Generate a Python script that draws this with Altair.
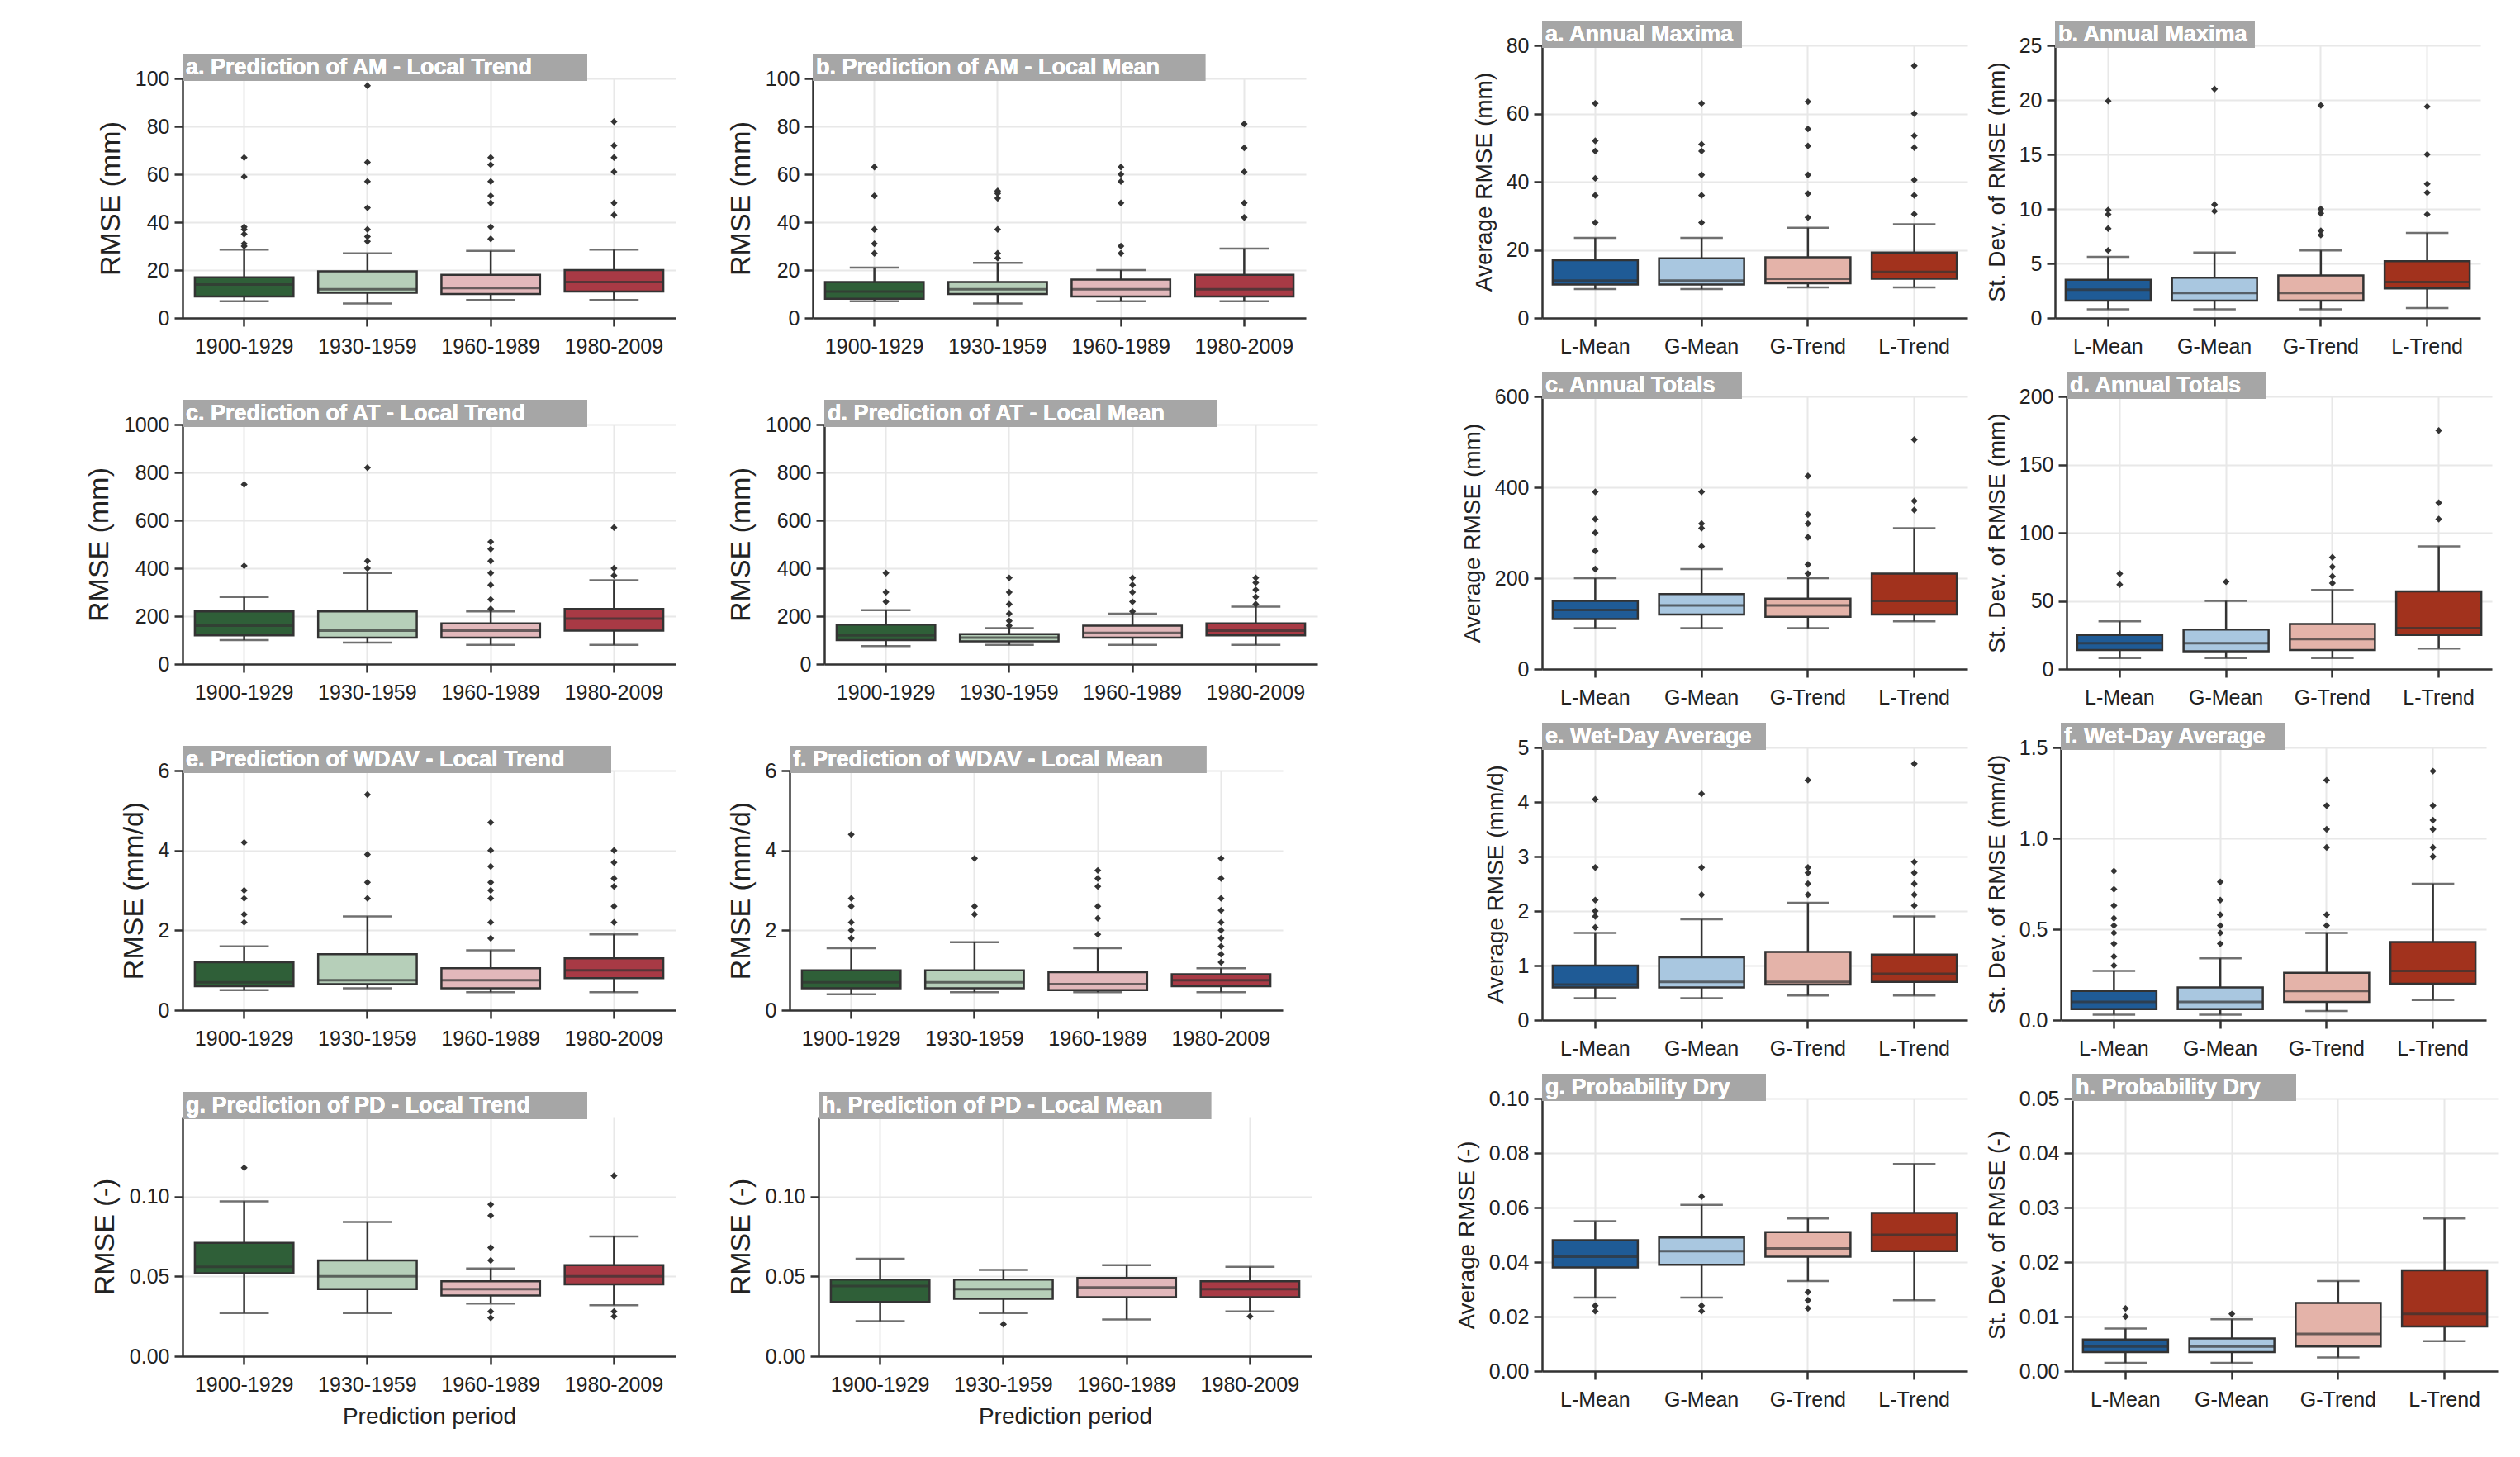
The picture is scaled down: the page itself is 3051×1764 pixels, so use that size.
import altair as alt
import pandas as pd

PERIODS = ["1900-1929", "1930-1959", "1960-1989", "1980-2009"]
MODELS = ["L-Mean", "G-Mean", "G-Trend", "L-Trend"]
LEFT_COLORS = ["#2f5f38", "#b6cfb9", "#e2b8bb", "#a83a45"]
RIGHT_COLORS = ["#1f5b96", "#a9c7e0", "#e4b3a9", "#a2321d"]

# each: lo, q1, med, q3, hi, outliers
AM_LT = dict(lo=[7, 6, 7.5, 7.5], q1=[9, 10.5, 10, 11], med=[14, 12, 12.5, 15], q3=[17, 19.5, 18, 20], hi=[28.5, 27, 28, 28.5],
             out=[[30, 31, 35, 37, 38, 59, 67], [32, 34, 37, 46, 57, 65, 97], [33, 38, 48, 51, 57, 64, 67], [43, 48, 61, 67, 72, 82]])
AM_LM = dict(lo=[7, 6, 7, 7], q1=[8, 10, 9, 9], med=[11, 12, 12, 12], q3=[15, 15, 16, 18], hi=[21, 23, 20, 29],
             out=[[27, 31, 37, 51, 63], [25, 27, 37, 50, 52, 53], [27, 30, 48, 57, 60, 63], [42, 48, 61, 71, 81]])
AT_LT = dict(lo=[100, 90, 80, 80], q1=[120, 110, 110, 140], med=[160, 140, 140, 190], q3=[220, 220, 170, 230], hi=[280, 380, 220, 350],
             out=[[410, 750], [400, 430, 820], [230, 270, 330, 380, 430, 480, 510], [370, 400, 570]])
AT_LM = dict(lo=[75, 80, 80, 80], q1=[100, 95, 110, 120], med=[120, 110, 130, 140], q3=[165, 125, 160, 170], hi=[225, 150, 210, 240],
             out=[[260, 300, 380], [160, 180, 210, 250, 300, 360], [220, 260, 300, 330, 360], [250, 280, 310, 340, 360]])
WD_LT = dict(lo=[0.5, 0.55, 0.45, 0.45], q1=[0.6, 0.65, 0.55, 0.8], med=[0.7, 0.75, 0.75, 1.0], q3=[1.2, 1.4, 1.05, 1.3], hi=[1.6, 2.35, 1.5, 1.9],
             out=[[2.2, 2.4, 2.8, 3.0, 4.2], [2.8, 3.2, 3.9, 5.4], [1.8, 2.2, 2.8, 3.0, 3.2, 3.6, 4.0, 4.7], [2.2, 2.6, 3.1, 3.3, 3.7, 4.0]])
WD_LM = dict(lo=[0.4, 0.45, 0.45, 0.45], q1=[0.55, 0.55, 0.5, 0.6], med=[0.7, 0.7, 0.65, 0.75], q3=[1.0, 1.0, 0.95, 0.9], hi=[1.55, 1.7, 1.55, 1.05],
             out=[[1.8, 2.0, 2.2, 2.6, 2.8, 4.4], [2.4, 2.6, 3.8], [1.9, 2.3, 2.6, 3.1, 3.3, 3.5], [1.2, 1.4, 1.6, 1.8, 2.0, 2.2, 2.5, 2.8, 3.3, 3.8]])
PD_LT = dict(lo=[0.027, 0.027, 0.033, 0.032], q1=[0.052, 0.042, 0.038, 0.045], med=[0.056, 0.05, 0.042, 0.05], q3=[0.071, 0.06, 0.047, 0.057], hi=[0.097, 0.084, 0.055, 0.075],
             out=[[0.118], [], [0.024, 0.028, 0.060, 0.068, 0.088, 0.095], [0.025, 0.028, 0.113]])
PD_LM = dict(lo=[0.022, 0.027, 0.023, 0.028], q1=[0.034, 0.036, 0.037, 0.037], med=[0.044, 0.042, 0.043, 0.042], q3=[0.048, 0.048, 0.049, 0.047], hi=[0.061, 0.054, 0.057, 0.056],
             out=[[], [0.020], [], [0.025]])

AMAX_AVG = dict(lo=[8.5, 8.5, 9, 9], q1=[9.8, 9.8, 10.2, 11.5], med=[11, 11, 11.5, 13.5], q3=[17, 17.5, 17.8, 19.2], hi=[23.5, 23.5, 26.5, 27.5],
                out=[[28, 36, 41, 49, 52, 63], [28, 36, 42, 49, 51, 63], [29.5, 36.5, 42, 50.5, 55.5, 63.5], [30.5, 36, 40.5, 50, 53.5, 60, 74]])
AMAX_SD = dict(lo=[0.8, 0.8, 0.8, 0.9], q1=[1.6, 1.6, 1.6, 2.7], med=[2.6, 2.3, 2.3, 3.3], q3=[3.5, 3.7, 3.9, 5.2], hi=[5.6, 6.0, 6.2, 7.8],
               out=[[6.2, 8.2, 9.5, 9.9, 19.9], [9.8, 10.4, 21], [7.6, 8.0, 9.6, 10, 19.5], [9.5, 11.5, 12.3, 15, 19.4]])
ATOT_AVG = dict(lo=[90, 90, 90, 105], q1=[110, 120, 115, 120], med=[130, 140, 140, 150], q3=[150, 165, 155, 210], hi=[200, 220, 200, 310],
                out=[[220, 260, 300, 330, 390], [270, 310, 320, 390], [210, 230, 290, 320, 340, 425], [350, 370, 505]])
ATOT_SD = dict(lo=[8, 8, 8, 15], q1=[14, 13, 14, 25], med=[19, 19, 22, 30], q3=[25, 29, 33, 57], hi=[35, 50, 58, 90],
               out=[[62, 70], [64], [63, 68, 75, 82], [110, 122, 175]])
WDAV_AVG = dict(lo=[0.4, 0.4, 0.45, 0.45], q1=[0.6, 0.6, 0.65, 0.7], med=[0.65, 0.7, 0.7, 0.85], q3=[1.0, 1.15, 1.25, 1.2], hi=[1.6, 1.85, 2.15, 1.9],
                out=[[1.7, 1.9, 2.0, 2.2, 2.8, 4.05], [2.3, 2.8, 4.15], [2.3, 2.5, 2.7, 2.8, 4.4], [2.1, 2.3, 2.5, 2.7, 2.9, 4.7]])
WDAV_SD = dict(lo=[0.03, 0.03, 0.05, 0.11], q1=[0.06, 0.06, 0.1, 0.2], med=[0.1, 0.1, 0.16, 0.27], q3=[0.16, 0.18, 0.26, 0.43], hi=[0.27, 0.34, 0.48, 0.75],
               out=[[0.3, 0.35, 0.42, 0.48, 0.52, 0.56, 0.63, 0.72, 0.82], [0.42, 0.48, 0.52, 0.58, 0.66, 0.76], [0.52, 0.58, 0.95, 1.05, 1.18, 1.32], [0.9, 0.95, 1.05, 1.1, 1.18, 1.37]])
PDRY_AVG = dict(lo=[0.027, 0.027, 0.033, 0.026], q1=[0.038, 0.039, 0.042, 0.044], med=[0.042, 0.044, 0.045, 0.05], q3=[0.048, 0.049, 0.051, 0.058], hi=[0.055, 0.061, 0.056, 0.076],
                out=[[0.022, 0.024], [0.022, 0.024, 0.064], [0.023, 0.026, 0.029], []])
PDRY_SD = dict(lo=[0.0015, 0.0015, 0.0025, 0.0055], q1=[0.0035, 0.0035, 0.0045, 0.0082], med=[0.0045, 0.0045, 0.0068, 0.0105], q3=[0.0058, 0.006, 0.0125, 0.0185], hi=[0.0078, 0.0095, 0.0165, 0.028],
               out=[[0.01, 0.0115], [0.0105], [], []])

FONT = "Liberation Sans"
STROKE = "#333333"


def panel(d, cats, colors, label, ytitle, domain, ticks, fmt, w, h, xtitle=None, ytfs=28):
    box = pd.DataFrame({"cat": cats, "col": colors, "lo": d["lo"], "q1": d["q1"], "med": d["med"], "q3": d["q3"], "hi": d["hi"]})
    outs = pd.DataFrame([{"cat": c, "v": v} for c, vs in zip(cats, d["out"]) for v in vs] or [{"cat": cats[0], "v": None}])
    bw = w / len(cats)
    xenc = alt.X("cat:N", sort=cats, scale=alt.Scale(domain=cats, paddingInner=0, paddingOuter=0),
                 axis=alt.Axis(title=xtitle, labelAngle=0, grid=True))
    yscale = alt.Scale(domain=domain, nice=False, zero=True)
    yax = alt.Axis(title=ytitle, values=ticks, format=fmt, grid=True, titleFontSize=ytfs)
    base = alt.Chart(box)
    whisk = base.mark_rule(color=STROKE, strokeWidth=2.5).encode(x=xenc, y=alt.Y("lo:Q", scale=yscale, axis=yax), y2="hi:Q")
    bars = base.mark_bar(width=alt.RelativeBandSize(0.8), stroke=STROKE, strokeWidth=2.5).encode(
        x=xenc, y="q1:Q", y2="q3:Q", color=alt.Color("col:N", scale=None))
    med = base.mark_tick(color=STROKE, thickness=3, size=bw * 0.8).encode(x=xenc, y="med:Q")
    caplo = base.mark_tick(color=STROKE, thickness=2.5, size=bw * 0.4).encode(x=xenc, y="lo:Q")
    caphi = base.mark_tick(color=STROKE, thickness=2.5, size=bw * 0.4).encode(x=xenc, y="hi:Q")
    pts = alt.Chart(outs).mark_point(shape="diamond", filled=True, size=70, color=STROKE, opacity=1).encode(x=xenc, y="v:Q")
    tw = len(label) * 14.6 + 8
    rect = base.mark_rect(color="#a6a6a6").encode(x=alt.value(0), x2=alt.value(tw), y=alt.value(-30), y2=alt.value(3))
    txt = base.mark_text(text=label, color="white", fontWeight="bold", fontSize=27, align="left", baseline="middle", font=FONT).encode(
        x=alt.value(4), y=alt.value(-13))
    return alt.layer(whisk, bars, med, caplo, caphi, pts, rect, txt).properties(width=w, height=h)


LW, LH = 597, 290
RW, RH = 515, 330
left_specs = [
    (AM_LT, "a. Prediction of AM - Local Trend", AM_LM, "b. Prediction of AM - Local Mean", "RMSE (mm)", [0, 100], [0, 20, 40, 60, 80, 100], "d"),
    (AT_LT, "c. Prediction of AT - Local Trend", AT_LM, "d. Prediction of AT - Local Mean", "RMSE (mm)", [0, 1000], [0, 200, 400, 600, 800, 1000], "d"),
    (WD_LT, "e. Prediction of WDAV - Local Trend", WD_LM, "f. Prediction of WDAV - Local Mean", "RMSE (mm/d)", [0, 6], [0, 2, 4, 6], "d"),
    (PD_LT, "g. Prediction of PD - Local Trend", PD_LM, "h. Prediction of PD - Local Mean", "RMSE (-)", [0, 0.15], [0, 0.05, 0.10], ".2f"),
]
left_rows = []
for i, (d1, l1, d2, l2, yt, dom, tk, fmt) in enumerate(left_specs):
    xt = "Prediction period" if i == 3 else None
    left_rows.append(alt.hconcat(
        panel(d1, PERIODS, LEFT_COLORS, l1, yt, dom, tk, fmt, LW, LH, xt, 34),
        panel(d2, PERIODS, LEFT_COLORS, l2, yt, dom, tk, fmt, LW, LH, xt, 34), spacing=62))
spacer = alt.Chart(pd.DataFrame({"a": [0]})).mark_point(opacity=0).encode(
    x=alt.value(0), y=alt.value(0)).properties(width=10, height=10)
left = alt.vconcat(spacer, alt.vconcat(*left_rows, spacing=52), spacing=0)

right_specs = [
    (AMAX_AVG, "a. Annual Maxima", "Average RMSE (mm)", [0, 80], [0, 20, 40, 60, 80], "d",
     AMAX_SD, "b. Annual Maxima", "St. Dev. of RMSE (mm)", [0, 25], [0, 5, 10, 15, 20, 25], "d"),
    (ATOT_AVG, "c. Annual Totals", "Average RMSE (mm)", [0, 600], [0, 200, 400, 600], "d",
     ATOT_SD, "d. Annual Totals", "St. Dev. of RMSE (mm)", [0, 200], [0, 50, 100, 150, 200], "d"),
    (WDAV_AVG, "e. Wet-Day Average", "Average RMSE (mm/d)", [0, 5], [0, 1, 2, 3, 4, 5], "d",
     WDAV_SD, "f. Wet-Day Average", "St. Dev. of RMSE (mm/d)", [0, 1.5], [0, 0.5, 1.0, 1.5], ".1f"),
    (PDRY_AVG, "g. Probability Dry", "Average RMSE (-)", [0, 0.10], [0, 0.02, 0.04, 0.06, 0.08, 0.10], ".2f",
     PDRY_SD, "h. Probability Dry", "St. Dev. of RMSE (-)", [0, 0.05], [0, 0.01, 0.02, 0.03, 0.04, 0.05], ".2f"),
]
right_rows = []
for (d1, l1, y1, dm1, t1, f1, d2, l2, y2, dm2, t2, f2) in right_specs:
    right_rows.append(alt.hconcat(
        panel(d1, MODELS, RIGHT_COLORS, l1, y1, dm1, t1, f1, RW, RH, None, 28),
        panel(d2, MODELS, RIGHT_COLORS, l2, y2, dm2, t2, f2, RW, RH, None, 28), spacing=22))
right = alt.vconcat(*right_rows, spacing=18)

chart = alt.hconcat(left, right, spacing=167).properties(
    background="white", padding={"left": 95, "top": 17, "right": 5, "bottom": 5}
).configure_view(stroke=None).configure_axis(
    labelFont=FONT, titleFont=FONT, labelFontSize=25, titleFontSize=28, titleFontWeight="normal",
    labelColor="#222", titleColor="#222", domainColor=STROKE, domainWidth=2.5, tickColor=STROKE,
    tickWidth=2.5, tickSize=10, gridColor="#e8e8e8", gridWidth=2, labelPadding=6, titlePadding=12
).configure_axisX(labelPadding=12)

chart.save("out.html", embed_options={"renderer": "svg", "actions": False})
